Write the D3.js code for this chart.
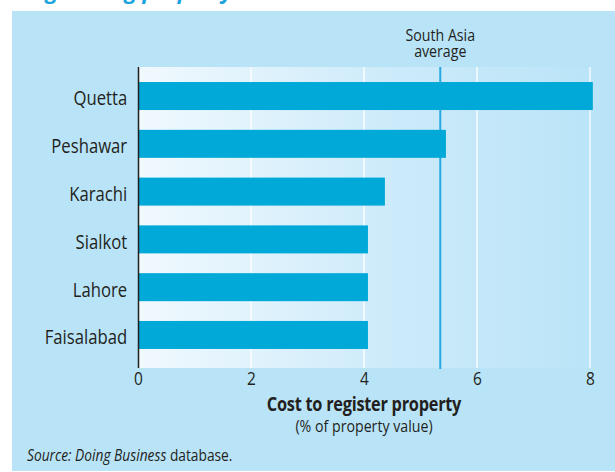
<!DOCTYPE html>
<html>
<head>
<meta charset="utf-8">
<script src="https://cdn.jsdelivr.net/npm/d3@7"></script>
<style>
  body { margin: 0; background: #fff; }
  svg { display: block; font-family: "Open Sans", "DejaVu Sans", sans-serif; }
</style>
</head>
<body>
<div id="chart"></div>
<script>
// values
var CITIES = ['Quetta', 'Peshawar', 'Karachi', 'Sialkot', 'Lahore', 'Faisalabad'];
var COST = [8.05, 5.45, 4.37, 4.07, 4.07, 4.07];
var SOUTH_ASIA_AVG = 5.35;
var X_TICKS = [0, 2, 4, 6, 8];

var width = 615, height = 472;
var plotLeft = 138, plotRight = 590, plotTop = 67, plotBottom = 368;
var SQUEEZE = 0.86;   // open sans is wider than the original condensed face
var INK = '#231f20';

var svg = d3.select('#chart')
    .append('svg')
    .attr('width', width)
    .attr('height', height);

var defs = svg.append('defs');
var grad = defs.append('linearGradient')
    .attr('id', 'plotGrad')
    .attr('x1', '0%').attr('x2', '100%')
    .attr('y1', '0%').attr('y2', '0%');
grad.append('stop').attr('offset', '0%').attr('stop-color', '#f1f9fe');
grad.append('stop').attr('offset', '55%').attr('stop-color', '#cdebfa');
grad.append('stop').attr('offset', '100%').attr('stop-color', '#bae4f8');

// narrow text placed at (x, y)
function label(x, y, str, size, anchor) {
    return svg.append('text')
        .attr('transform', 'translate(' + x + ',' + y + ') scale(' + SQUEEZE + ',1)')
        .attr('text-anchor', anchor || 'middle')
        .style('font-size', size + 'px')
        .style('fill', INK)
        .text(str);
}

// title, mostly cut off at top
svg.append('text')
    .attr('x', 20)
    .attr('y', -1)
    .style('font-size', '22px')
    .style('font-weight', 'bold')
    .style('font-style', 'italic')
    .style('fill', '#1ba3de')
    .text('Registering property');

// panel
svg.append('rect')
    .attr('x', 12)
    .attr('y', 11)
    .attr('width', width - 12)
    .attr('height', 460)
    .style('fill', '#b9e4f8');

var x = d3.scaleLinear()
    .domain([0, 8])
    .range([plotLeft, plotRight]);

var y = d3.scaleBand()
    .domain(CITIES)
    .range([67.7, 363.3])
    .paddingInner(0.414)
    .paddingOuter(0.3);

// plot background
svg.append('rect')
    .attr('x', plotLeft)
    .attr('y', plotTop)
    .attr('width', plotRight - plotLeft + 4)
    .attr('height', plotBottom - plotTop)
    .style('fill', 'url(#plotGrad)');

// grid
svg.selectAll('.grid')
    .data(X_TICKS.filter((d) => d > 0))
    .enter()
    .append('line')
    .attr('class', 'grid')
    .attr('x1', (d) => x(d))
    .attr('x2', (d) => x(d))
    .attr('y1', plotTop)
    .attr('y2', plotBottom)
    .style('stroke', '#ffffff')
    .style('stroke-opacity', 0.85)
    .style('stroke-width', 1.5);

// average line
svg.append('line')
    .attr('x1', x(SOUTH_ASIA_AVG))
    .attr('x2', x(SOUTH_ASIA_AVG))
    .attr('y1', plotTop)
    .attr('y2', plotBottom + 1)
    .style('stroke', '#27a9e1')
    .style('stroke-width', 2);

var avgLabel = label(x(SOUTH_ASIA_AVG), 41, '', 16.5);
avgLabel.append('tspan').attr('x', 0).attr('y', 0).text('South Asia');
avgLabel.append('tspan').attr('x', 0).attr('y', 16).text('average');

// bars
svg.selectAll('.bar')
    .data(CITIES)
    .enter()
    .append('rect')
    .attr('class', 'bar')
    .attr('x', x(0))
    .attr('y', (d) => y(d))
    .attr('width', (d, i) => x(COST[i]) - x(0))
    .attr('height', y.bandwidth())
    .style('fill', '#00a9d7');

// y axis
var yAxis = svg.append('g')
    .attr('transform', 'translate(' + plotLeft + ',0)')
    .call(d3.axisLeft(y).tickSize(0).tickPadding(13));
yAxis.select('.domain').remove();
yAxis.append('line')
    .attr('x1', 0.5).attr('x2', 0.5)
    .attr('y1', plotTop).attr('y2', plotBottom)
    .style('stroke', INK)
    .style('stroke-width', 1.5);
yAxis.selectAll('text')
    .attr('dy', '0.47em')
    .attr('transform', 'scale(' + SQUEEZE * 0.97 + ',1)')
    .style('font-size', '20px')
    .style('fill', INK)
    .style('font-family', '"Open Sans", sans-serif');

// x axis
var xAxis = svg.append('g')
    .attr('transform', 'translate(0,' + plotBottom + ')')
    .call(d3.axisBottom(x).tickValues(X_TICKS).tickSize(0).tickPadding(4));
xAxis.select('.domain').remove();
xAxis.selectAll('text')
    .attr('transform', 'scale(' + SQUEEZE + ',1)')
    .style('font-size', '18px')
    .style('fill', INK)
    .style('font-family', '"Open Sans", sans-serif');

label((plotLeft + plotRight) / 2, 411, 'Cost to register property', 19)
    .style('font-weight', 'bold')
    .style('letter-spacing', '-0.3px');

label((plotLeft + plotRight) / 2, 432, '(% of property value)', 16.5);

var src = label(27, 461, '', 16, 'start');
src.append('tspan').style('font-style', 'italic').text('Source: Doing Business');
src.append('tspan').text(' database.');
</script>
</body>
</html>
